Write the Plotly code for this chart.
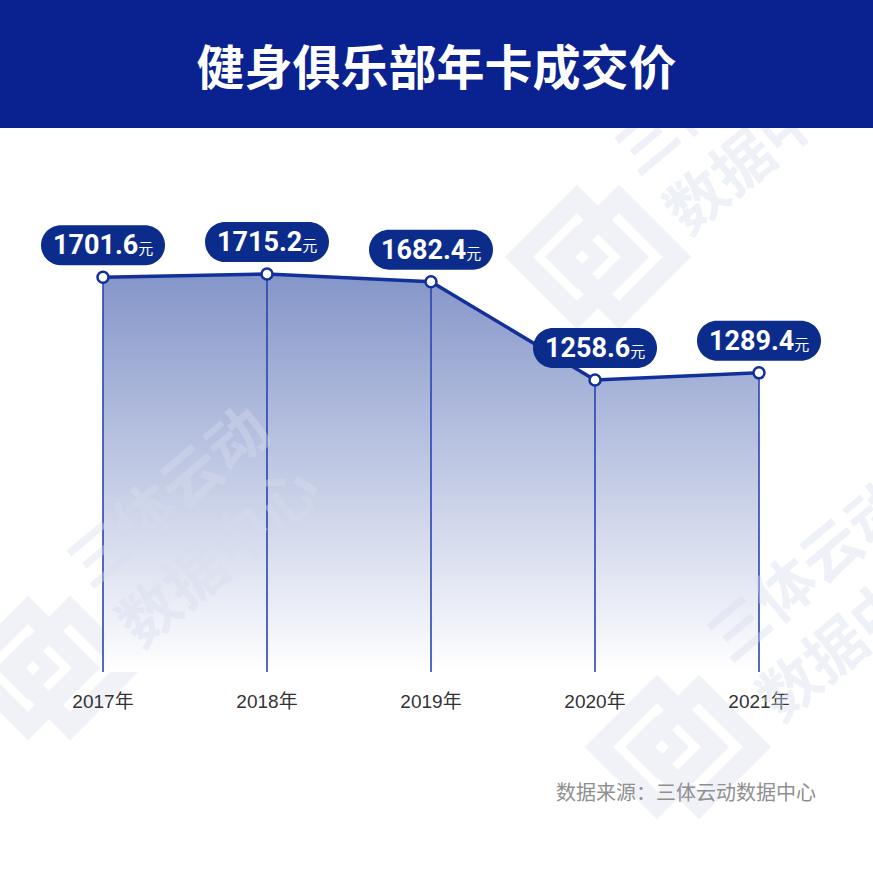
import plotly.graph_objects as go

# ---------------- data ----------------
years = ["2017年", "2018年", "2019年", "2020年", "2021年"]
prices = [1701.6, 1715.2, 1682.4, 1258.6, 1289.4]
price_labels = ["1701.6", "1715.2", "1682.4", "1258.6", "1289.4"]
unit = "元"
title_text = "健身俱乐部年卡成交价"
source_text = "数据来源：三体云动数据中心"
watermark_text = ["三体云动", "数据中心"]

# ---------------- layout constants ----------------
W = H = 873
ML, MR, MT, MB = 21, 32, 208, 201
PW = W - ML - MR
PH = H - MT - MB


def px(xp):
    return (xp - ML) / PW


def py(yp):
    return (H - MB - yp) / PH


BANNER = "#0a2290"
LINE = "#12309a"
PILL = "#0c2c8c"
VLINE = "#2a45b0"
WM_SHAPE = "#f0f2f8"
WM_TEXT = "rgba(214,221,238,0.4)"
CJK = "Noto Sans CJK SC"
NUMF = "Roboto, sans-serif"
LABF = "Liberation Sans, Noto Sans CJK SC, sans-serif"

xs = list(range(len(years)))

fig = go.Figure()

# area fill with vertical gradient
fig.add_trace(go.Scatter(
    x=xs, y=prices, mode="lines", fill="tozeroy",
    line=dict(width=0, color=LINE),
    fillgradient=dict(type="vertical", start=0, stop=max(prices),
                      colorscale=[[0, "rgba(255,255,255,1)"], [1, "#8495c9"]]),
    hoverinfo="skip", showlegend=False))

# vertical drop lines
vx, vy = [], []
for xi, v in zip(xs, prices):
    vx += [xi, xi, None]
    vy += [0, v, None]
fig.add_trace(go.Scatter(x=vx, y=vy, mode="lines",
                         line=dict(color=VLINE, width=1.6),
                         hoverinfo="skip", showlegend=False))

# main line with markers
fig.add_trace(go.Scatter(
    x=xs, y=prices, mode="lines+markers",
    line=dict(color=LINE, width=3.5),
    marker=dict(size=11, color="white", line=dict(color=LINE, width=2.5)),
    showlegend=False))

shapes = []


# watermark logos
def diamond(cx, cy, r, w):
    pts = [(cx - r, cy), (cx, cy - r), (cx + r, cy), (cx, cy + r)]
    path = "M " + " L ".join(f"{px(a):.5f},{py(b):.5f}" for a, b in pts) + " Z"
    return dict(type="path", xref="paper", yref="paper", path=path,
                line=dict(color=WM_SHAPE, width=w), layer="below")


for cx, cy in [(597, 257), (677, 747), (48, 668)]:
    shapes.append(diamond(cx - 20, cy, 58, 20))
    shapes.append(diamond(cx + 22, cy, 58, 20))
    shapes.append(diamond(cx - 20, cy, 22, 14))

# label pills (pixel sized, anchored at data points)
hw, r, yb = 62, 20, 12
yt = yb + 2 * r
cy_ = yb + r
k = 0.5523 * r
pill_path = (
    f"M {-hw + r},{yb} L {hw - r},{yb} "
    f"C {hw - r + k},{yb} {hw},{cy_ - k} {hw},{cy_} "
    f"C {hw},{cy_ + k} {hw - r + k},{yt} {hw - r},{yt} "
    f"L {-hw + r},{yt} "
    f"C {-hw + r - k},{yt} {-hw},{cy_ + k} {-hw},{cy_} "
    f"C {-hw},{cy_ - k} {-hw + r - k},{yb} {-hw + r},{yb} Z"
)
for xi, v in zip(xs, prices):
    shapes.append(dict(type="path", xref="x", yref="y", xsizemode="pixel",
                       ysizemode="pixel", xanchor=xi, yanchor=v,
                       path=pill_path, fillcolor=PILL,
                       line=dict(width=0), layer="above"))

annotations = []
# watermark text
for cx, cy in [(190, 522), (830, 596), (738, 110)]:
    annotations.append(dict(
        xref="paper", yref="paper", x=px(cx), y=py(cy),
        xanchor="center", yanchor="middle", showarrow=False,
        text="<b>" + "<br>".join(watermark_text) + "</b>",
        textangle=-40, font=dict(family=CJK, size=60, color=WM_TEXT)))

# pill labels
for xi, v, lab in zip(xs, prices, price_labels):
    annotations.append(dict(
        xref="x", yref="y", x=xi, y=v, yshift=cy_, showarrow=False,
        xanchor="center", yanchor="middle",
        text=f"<b>{lab}</b><span style='font-size:15px;font-family:{CJK}'>{unit}</span>",
        font=dict(family=NUMF, size=27, color="white")))

# source
annotations.append(dict(
    xref="paper", yref="paper", x=px(818), y=py(793), xanchor="right",
    yanchor="middle", showarrow=False, text=source_text,
    font=dict(family=LABF, size=20, color="#8f8f8f")))

# title banner
annotations.append(dict(
    xref="paper", yref="paper", x=px(W / 2), y=py(64), xanchor="center",
    yanchor="middle", showarrow=False, text=f"<b>{title_text}</b>",
    width=W, height=128, bgcolor=BANNER, borderpad=0, borderwidth=0,
    valign="middle", align="center",
    font=dict(family=CJK, size=48, color="white")))

fig.update_layout(
    width=W, height=H,
    margin=dict(l=ML, r=MR, t=MT, b=MB),
    paper_bgcolor="white", plot_bgcolor="rgba(0,0,0,0)",
    shapes=shapes, annotations=annotations,
    xaxis=dict(range=[-0.5, len(years) - 0.5], tickvals=xs, ticktext=years,
               showgrid=False, zeroline=False, showline=False,
               ticks="outside", ticklen=12, tickcolor="rgba(0,0,0,0)",
               tickfont=dict(family=LABF, size=19, color="#333333"),
               fixedrange=True),
    yaxis=dict(range=[0, 2000], visible=False, fixedrange=True),
    showlegend=False,
)

fig.write_html(
    "out.html",
    config={"displayModeBar": False},
    post_script="document.body.style.margin='0';document.body.style.overflow='hidden';",
)
